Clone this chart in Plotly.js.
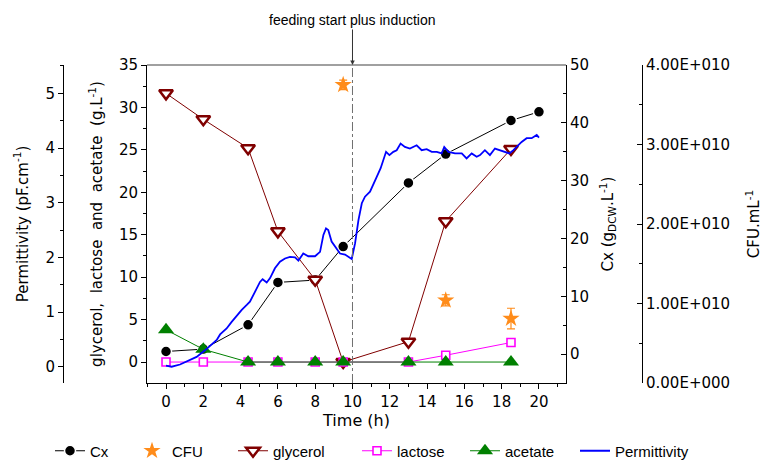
<!DOCTYPE html>
<html>
<head>
<meta charset="utf-8">
<script src="https://cdn.plot.ly/plotly-3.0.1.min.js"></script>
<style>html,body{margin:0;padding:0;background:#fff;}#chart{width:763px;height:461px;}</style>
</head>
<body>
<div id="chart"></div>
<script>
// ---- data ----
const timeCx = [0, 2, 4.4, 6, 8, 9.5, 13, 15, 18.5, 20];
const cx = [0.45, 0.86, 5.06, 12.4, 12.8, 18.6, 29.6, 34.6, 40.4, 41.9];

const timeSub = [0, 2, 4.4, 6, 8, 9.5, 13, 15, 18.5];
const glycerol = [31.66, 28.6, 25.2, 15.4, 9.7, 0.0, 2.4, 16.6, 25.1];
const lactose = [0, 0, 0, 0, 0, 0, 0, 0.8, 2.3];
const acetate = [3.8, 1.5, 0, 0, 0, 0, 0, 0, 0];

const timeCFU = [9.5, 15, 18.5];
const cfu = [3.75e10, 1.04e10, 0.81e10];
const cfuErr = [0.06e10, 0.07e10, 0.13e10];

const timePerm = [0, 0.3, 0.75, 1.29, 1.64, 2.09, 2.36, 2.72, 2.9, 3.25, 3.52, 3.79, 4.06, 4.33, 4.5, 4.77, 5.04, 5.18, 5.4, 5.58, 5.84, 6.11, 6.38, 6.65, 6.92, 7.1, 7.36, 7.63, 7.99, 8.26, 8.44, 8.58, 8.7, 8.88, 9.15, 9.33, 9.6, 9.87, 9.96, 10.14, 10.32, 10.5, 10.67, 10.94, 11.12, 11.3, 11.51, 11.65, 11.8, 11.98, 12.19, 12.37, 12.58, 12.81, 13.08, 13.44, 13.71, 13.98, 14.25, 14.52, 14.78, 14.92, 15.14, 15.5, 15.86, 16.12, 16.39, 16.66, 16.84, 17.1, 17.37, 17.64, 17.9, 18.18, 18.41, 18.63, 18.9, 19.07, 19.34, 19.61, 19.88, 20.0];
const permittivity = [0.02, 0.0, 0.04, 0.12, 0.18, 0.30, 0.38, 0.49, 0.59, 0.70, 0.82, 0.94, 1.04, 1.13, 1.19, 1.37, 1.55, 1.60, 1.54, 1.62, 1.80, 1.92, 1.98, 2.01, 2.00, 1.94, 2.07, 2.02, 2.02, 2.10, 2.41, 2.53, 2.50, 2.29, 2.16, 2.07, 2.05, 1.99, 1.97, 2.26, 2.68, 2.99, 3.11, 3.20, 3.35, 3.47, 3.63, 3.78, 3.93, 3.87, 3.93, 3.96, 4.08, 4.02, 3.99, 4.05, 3.96, 3.98, 3.93, 3.93, 3.90, 4.02, 3.93, 3.90, 3.90, 3.81, 3.90, 3.84, 3.87, 3.96, 3.87, 3.99, 3.96, 3.93, 3.90, 3.96, 4.05, 4.11, 4.18, 4.18, 4.24, 4.19];

const xTicks = [0, 2, 4, 6, 8, 10, 12, 14, 16, 18, 20];
const cfuTickVals = [0, 1e10, 2e10, 3e10, 4e10];
const cfuTickText = ['0.00E+000', '1.00E+010', '2.00E+010', '3.00E+010', '4.00E+010'];
const feedTime = 10;

// ---- styling ----
const FONT = 'Liberation Sans, Arial, sans-serif';
const AXFONT = 'DejaVu Sans, Liberation Sans, sans-serif';
const W = 579; // paper width px (margin l=63, r=121)
const px = p => (p - 63) / W;
const mkLegend = (left) => ({
  orientation: 'h', xref: 'container', yref: 'container',
  x: left / 763, xanchor: 'left', y: 1 - 451 / 461, yanchor: 'middle',
  font: {family: FONT, size: 15, color: '#000'}, bgcolor: 'rgba(0,0,0,0)', borderwidth: 0
});

const traces = [
  {x: timeCx, y: cx, name: 'Cx', yaxis: 'y', mode: 'lines+markers', legend: 'legend',
   line: {color: '#000', width: 1}, marker: {symbol: 'circle', size: 11, color: '#000', line: {color: '#fff', width: 1.5}}},
  {x: timeCFU, y: cfu, name: 'CFU', yaxis: 'y3', mode: 'markers', legend: 'legend2',
   marker: {symbol: 'star', size: 13, color: '#ff8c1a'},
   error_y: {type: 'data', array: cfuErr, visible: true, color: '#ff8c1a', thickness: 1.2, width: 4}},
  {x: timeSub, y: glycerol, name: 'glycerol', yaxis: 'y2', mode: 'lines+markers', legend: 'legend3',
   line: {color: '#800000', width: 1}, marker: {symbol: 'triangle-down', size: 12, color: '#fff', line: {color: '#800000', width: 2.5}}},
  {x: timeSub, y: lactose, name: 'lactose', yaxis: 'y2', mode: 'lines+markers', legend: 'legend4',
   line: {color: '#ff00ff', width: 1}, marker: {symbol: 'square', size: 8, color: '#fff', line: {color: '#ff00ff', width: 1.6}}},
  {x: timeSub, y: acetate, name: 'acetate', yaxis: 'y2', mode: 'lines+markers', legend: 'legend5',
   line: {color: '#008000', width: 1}, marker: {symbol: 'triangle-up', size: 14, color: '#008000'}},
  {x: timePerm, y: permittivity, name: 'Permittivity', yaxis: 'y4', mode: 'lines', legend: 'legend6',
   line: {color: '#0000ff', width: 1.8}}
];

const tickFont = {family: AXFONT, size: 15, color: '#000'};
const titleFont = {family: AXFONT, size: 15, color: '#000'};

const layout = {
  width: 763, height: 461,
  margin: {l: 63, r: 121, t: 65, b: 78, pad: 0, autoexpand: false},
  paper_bgcolor: '#fff', plot_bgcolor: '#fff',
  font: {family: FONT, size: 14, color: '#000'},
  showlegend: true,
  legend: mkLegend(50),
  legend2: mkLegend(132),
  legend3: mkLegend(233),
  legend4: mkLegend(357),
  legend5: mkLegend(465),
  legend6: mkLegend(575),
  xaxis: {
    domain: [px(147), px(566)], range: [-1.02, 21.45], anchor: 'y',
    tickmode: 'array', tickvals: xTicks, ticks: 'outside', ticklen: 5, tickcolor: '#000',
    minor: {dtick: 1, tick0: 0, ticks: 'outside', ticklen: 3, tickcolor: '#000'},
    showline: true, linecolor: '#000', linewidth: 1, showgrid: false, zeroline: false,
    tickfont: tickFont, title: {text: 'Time (h)', font: {family: AXFONT, size: 16, color: '#000'}, standoff: 4}
  },
  yaxis: {
    range: [-5, 50], side: 'right', anchor: 'x',
    dtick: 10, tick0: 0, ticks: 'inside', ticklen: 5, tickcolor: '#000',
    minor: {dtick: 5, tick0: 0, ticks: 'inside', ticklen: 3, tickcolor: '#000'},
    showline: true, linecolor: '#000', linewidth: 1, showgrid: false, zeroline: false,
    tickfont: tickFont, title: {text: 'Cx (g<sub>DCW</sub>.L<sup>-1</sup>)', font: titleFont, standoff: 14}
  },
  yaxis2: {
    range: [-2.47, 35], side: 'left', anchor: 'x', overlaying: 'y',
    dtick: 5, tick0: 0, ticks: 'outside', ticklen: 5, tickcolor: '#000',
    minor: {dtick: 2.5, tick0: 0, ticks: 'outside', ticklen: 3, tickcolor: '#000'},
    showline: true, linecolor: '#000', linewidth: 1, showgrid: false, zeroline: false,
    tickfont: tickFont, title: {text: 'glycerol,  lactose  and  acetate  (g.L<sup>-1</sup>)', font: titleFont, standoff: 12}
  },
  yaxis3: {
    range: [0, 4e10], side: 'right', anchor: 'free', position: 1, overlaying: 'y',
    tickmode: 'array', tickvals: cfuTickVals, ticktext: cfuTickText,
    ticks: 'inside', ticklen: 5, tickcolor: '#000',
    minor: {dtick: 0.5e10, tick0: 0, ticks: 'inside', ticklen: 3, tickcolor: '#000'},
    showline: true, linecolor: '#000', linewidth: 1, showgrid: false, zeroline: false,
    tickfont: tickFont, title: {text: 'CFU.mL<sup>-1</sup>', font: titleFont, standoff: 20}
  },
  yaxis4: {
    range: [-0.298, 5.518], side: 'left', anchor: 'free', position: 0, overlaying: 'y',
    dtick: 1, tick0: 0, ticks: 'outside', ticklen: 5, tickcolor: '#000',
    minor: {dtick: 0.5, tick0: 0, ticks: 'outside', ticklen: 3, tickcolor: '#000'},
    showline: true, linecolor: '#000', linewidth: 1, showgrid: false, zeroline: false,
    tickfont: tickFont, title: {text: 'Permittivity (pF.cm<sup>-1</sup>)', font: titleFont, standoff: 12}
  },
  shapes: [
    {type: 'line', xref: 'paper', yref: 'paper', x0: px(147), x1: px(566), y0: 1, y1: 1,
     line: {color: '#808080', width: 1.5}},
    {type: 'line', xref: 'x', yref: 'paper', x0: feedTime, x1: feedTime, y0: 0, y1: 1,
     line: {color: '#707070', width: 1, dash: 'dashdot'}}
  ],
  annotations: [
    {text: 'feeding start plus induction', xref: 'x', yref: 'paper', x: feedTime, y: 1,
     showarrow: true, ax: 0, ay: -45, arrowhead: 2, arrowsize: 0.9, arrowwidth: 1, arrowcolor: '#333',
     font: {family: FONT, size: 14, color: '#000'}, standoff: 0}
  ]
};

Plotly.newPlot('chart', traces, layout, {displayModeBar: false, staticPlot: true});
</script>
</body>
</html>
